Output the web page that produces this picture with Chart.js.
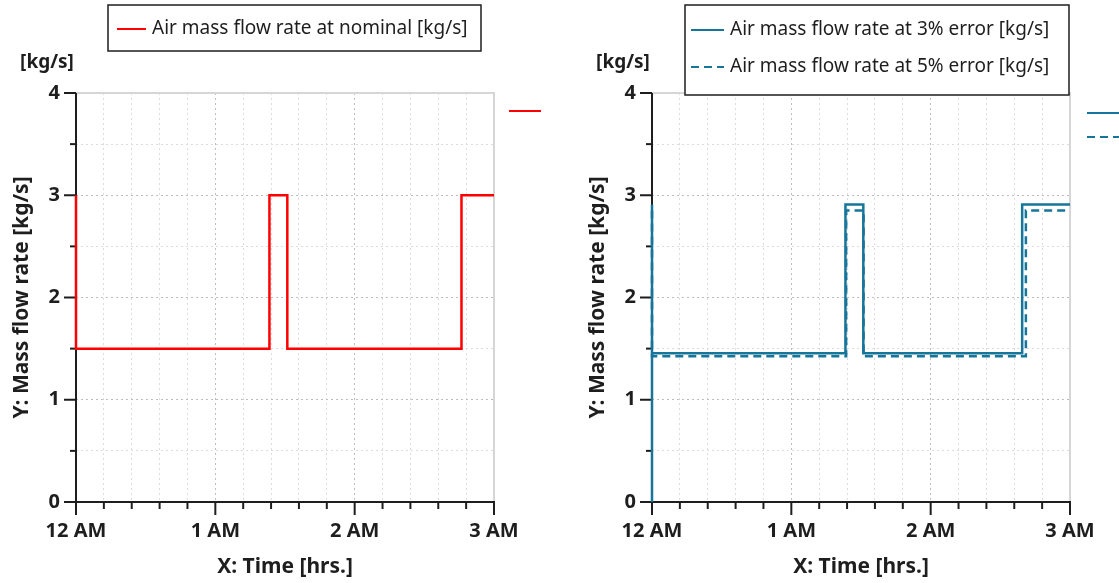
<!DOCTYPE html>
<html><head><meta charset="utf-8">
<script src="https://cdn.jsdelivr.net/npm/chart.js@4.4.0/dist/chart.umd.min.js"></script>
<style>
html,body{margin:0;padding:0;background:#fff;width:1119px;height:583px;overflow:hidden}
.wrap{position:absolute;top:0;width:560px;height:583px}
</style></head><body>
<div class="wrap" style="left:0"><canvas id="c1" width="560" height="583"></canvas></div>
<div class="wrap" style="left:576px"><canvas id="c2" width="560" height="583"></canvas></div>
<script>
// ---- data (time in minutes after 12 AM) ----
const tickLabels = {0: '12 AM', 60: '1 AM', 120: '2 AM', 180: '3 AM'};
const nominalTimes = [0, 0, 83.3, 83.3, 91, 91, 166, 166, 180];
const nominalFlow  = [3, 1.5, 1.5, 3, 3, 1.5, 1.5, 3, 3];
const err3Times = [0, 0, 0, 83.3, 83.3, 91, 91, 159.4, 159.4, 180];
const err3Flow  = [0, 2.91, 1.455, 1.455, 2.91, 2.91, 1.455, 1.455, 2.91, 2.91];
const err5Times = [0, 0, 83.6, 83.6, 91.1, 91.1, 161, 161, 180];
const err5Flow  = [2.85, 1.425, 1.425, 2.85, 2.85, 1.425, 1.425, 2.85, 2.85];
const labelNominal = 'Air mass flow rate at nominal [kg/s]';
const label3 = 'Air mass flow rate at 3% error [kg/s]';
const label5 = 'Air mass flow rate at 5% error [kg/s]';

const RED = '#ff0000';
const BLUE = '#17759a';
const FONT = '"Noto Sans", "DejaVu Sans", sans-serif';

function pts(xs, ys) { return xs.map((x, i) => ({x: x, y: ys[i]})); }

const deco = {
  id: 'deco',
  beforeDatasetsDraw(chart) {
    const ctx = chart.ctx, a = chart.chartArea, xs = chart.scales.x, ys = chart.scales.y;
    ctx.save();
    ctx.strokeStyle = '#d6d6d6'; ctx.lineWidth = 2; ctx.setLineDash([]);
    ctx.beginPath(); ctx.moveTo(a.left, a.top); ctx.lineTo(a.right, a.top); ctx.lineTo(a.right, a.bottom); ctx.stroke();
    ctx.strokeStyle = '#1e1e1e'; ctx.lineWidth = 2;
    ctx.beginPath(); ctx.moveTo(a.left, a.top); ctx.lineTo(a.left, a.bottom + 1); ctx.stroke();
    ctx.beginPath(); ctx.moveTo(a.left - 12, a.bottom); ctx.lineTo(a.right + 1, a.bottom); ctx.stroke();
    ys.ticks.forEach(t => {
      const p = ys.getPixelForValue(t.value);
      const len = Number.isInteger(t.value) ? 12 : 6;
      ctx.beginPath(); ctx.moveTo(a.left - len, p); ctx.lineTo(a.left, p); ctx.stroke();
    });
    xs.ticks.forEach(t => {
      const p = xs.getPixelForValue(t.value);
      const len = (t.value % 60 === 0) ? 13 : 7;
      ctx.beginPath(); ctx.moveTo(p, a.bottom); ctx.lineTo(p, a.bottom + len); ctx.stroke();
    });
    ctx.restore();
  },
  afterDraw(chart, args, o) {
    const ctx = chart.ctx;
    ctx.save();
    ctx.fillStyle = '#1e1e1e'; ctx.font = 'bold 19px ' + FONT;
    ctx.textAlign = 'center'; ctx.textBaseline = 'middle';
    ctx.fillText('[kg/s]', o.unitX, o.unitY);
    const b = o.box;
    ctx.fillStyle = '#fff'; ctx.fillRect(b.x, b.y, b.w, b.h);
    ctx.strokeStyle = '#1e1e1e'; ctx.lineWidth = 1.5; ctx.strokeRect(b.x, b.y, b.w, b.h);
    ctx.font = '19px ' + FONT; ctx.textAlign = 'left'; ctx.fillStyle = '#1e1e1e';
    chart.data.datasets.forEach((ds, i) => {
      const yy = o.rowY[i];
      ctx.strokeStyle = ds.borderColor; ctx.lineWidth = 2;
      ctx.setLineDash(ds.borderDash || []);
      ctx.beginPath(); ctx.moveTo(o.lineX0, yy); ctx.lineTo(o.lineX1, yy); ctx.stroke();
      ctx.fillText(ds.label, o.textX, yy);
      ctx.beginPath(); ctx.moveTo(o.sideX0, o.sideY[i]); ctx.lineTo(o.sideX1, o.sideY[i]); ctx.stroke();
    });
    ctx.restore();
  }
};

function makeChart(id, datasets, decoOpts) {
  return new Chart(document.getElementById(id), {
    type: 'line',
    data: {datasets: datasets},
    plugins: [deco],
    options: {
      responsive: false, animation: false, events: [],
      layout: {padding: {left: 0, right: 66, top: 93, bottom: 0}},
      plugins: {legend: {display: false}, tooltip: {enabled: false}, deco: decoOpts},
      elements: {point: {radius: 0}, line: {tension: 0, borderWidth: 2}},
      scales: {
        x: {
          type: 'linear', min: 0, max: 180,
          afterFit: s => { s.height = 81; },
          ticks: {stepSize: 12, autoSkip: false, maxRotation: 0, padding: 17, color: '#1e1e1e',
                  font: {family: FONT, size: 20, weight: 'bold'},
                  callback: v => tickLabels[v] !== undefined ? tickLabels[v] : ''},
          grid: {drawTicks: false, lineWidth: 1,
                 color: c => (c.tick && c.tick.value % 60 === 0) ? '#bdbdbd' : '#dcdcdc'},
          border: {display: false, dash: [2, 3]},
          title: {display: true, text: 'X: Time [hrs.]', color: '#1e1e1e',
                  font: {family: FONT, size: 21, weight: 'bold'}, padding: {top: 0, bottom: 3}}
        },
        y: {
          min: 0, max: 4,
          afterFit: s => { s.width = 76; },
          ticks: {stepSize: 0.5, autoSkip: false, padding: 16, color: '#1e1e1e',
                  font: {family: FONT, size: 20, weight: 'bold'},
                  callback: v => Number.isInteger(v) ? String(v) : ''},
          grid: {drawTicks: false, lineWidth: 1,
                 color: c => (c.tick && Number.isInteger(c.tick.value)) ? '#bdbdbd' : '#dcdcdc'},
          border: {display: false, dash: [2, 3]},
          title: {display: true, text: 'Y: Mass flow rate [kg/s]', color: '#1e1e1e',
                  font: {family: FONT, size: 21, weight: 'bold'}, padding: {top: 9, bottom: 0}}
        }
      }
    }
  });
}

makeChart('c1', [
  {label: labelNominal, data: pts(nominalTimes, nominalFlow), borderColor: RED, borderWidth: 2.5, clip: 3}
], {
  unitX: 47, unitY: 63,
  box: {x: 108, y: 5, w: 373, h: 46},
  rowY: [29], lineX0: 117, lineX1: 146, textX: 152,
  sideX0: 509, sideX1: 541, sideY: [111]
});

makeChart('c2', [
  {label: label3, data: pts(err3Times, err3Flow), borderColor: BLUE, borderWidth: 2.5, clip: 3},
  {label: label5, data: pts(err5Times, err5Flow), borderColor: BLUE, borderWidth: 2.5, borderDash: [8, 5], clip: 3}
], {
  unitX: 47, unitY: 63,
  box: {x: 109, y: 5, w: 384, h: 90},
  rowY: [30, 67], lineX0: 115, lineX1: 148, textX: 154,
  sideX0: 511, sideX1: 560, sideY: [113, 137]
});
</script>
</body></html>
